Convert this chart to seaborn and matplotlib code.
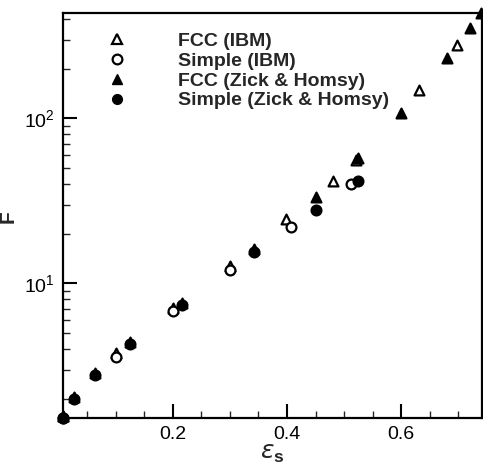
import matplotlib
matplotlib.use("Agg")
import matplotlib.pyplot as plt
import seaborn as sns
import numpy as np
import pandas as pd
from matplotlib.lines import Line2D
from matplotlib.ticker import LogLocator, NullFormatter, MultipleLocator

# Data
fcc_ibm_x = [0.008, 0.1, 0.2, 0.3, 0.399, 0.48, 0.52, 0.631, 0.698]
fcc_ibm_y = [1.58, 3.78, 7.11, 12.7, 24.4, 41.7, 56.0, 148.0, 278.0]
sc_ibm_x = [0.008, 0.1, 0.2, 0.3, 0.407, 0.512]
sc_ibm_y = [1.54, 3.59, 6.79, 12.0, 22.0, 39.8]
fcc_zh_x = [0.008, 0.027, 0.064, 0.125, 0.216, 0.343, 0.45, 0.5236, 0.6, 0.68, 0.72, 0.7405]
fcc_zh_y = [1.58, 2.06, 2.88, 4.42, 7.65, 16.1, 33.5, 57.2, 108.0, 231.0, 351.0, 435.0]
sc_zh_x = [0.008, 0.027, 0.064, 0.125, 0.216, 0.343, 0.45, 0.5236]
sc_zh_y = [1.53, 1.99, 2.78, 4.27, 7.39, 15.5, 27.8, 41.7]
labels = ["FCC (IBM)", "Simple (IBM)", "FCC (Zick & Homsy)", "Simple (Zick & Homsy)"]

sns.set_theme(style="white")
plt.rcParams['font.family'] = ['Liberation Sans', 'DejaVu Sans']
plt.rcParams['mathtext.fontset'] = 'custom'
plt.rcParams['mathtext.rm'] = 'Liberation Sans'
plt.rcParams['mathtext.bf'] = 'Liberation Sans:bold'

fig = plt.figure(figsize=(4.83, 4.66), dpi=100)
ax = fig.add_axes([63/483, 1-418/466, (481.5-63)/483, (418-13)/466])

ms = 50
series = [
    (fcc_ibm_x, fcc_ibm_y, '^', 'white'),
    (sc_ibm_x, sc_ibm_y, 'o', 'white'),
    (fcc_zh_x, fcc_zh_y, '^', 'black'),
    (sc_zh_x, sc_zh_y, 'o', 'black'),
]
for (xs, ys, m, fc), lab in zip(series, labels):
    df = pd.DataFrame({'x': xs, 'y': ys})
    sns.scatterplot(data=df, x='x', y='y', marker=m, s=ms, facecolor=fc,
                    edgecolor='black', linewidth=1.6, ax=ax, zorder=3,
                    legend=False, clip_on=False)

ax.set_yscale('log')
ax.set_xlim(0.008, 0.7405)
ax.set_ylim(1.53, 435)

ax.xaxis.set_major_locator(MultipleLocator(0.2))
ax.xaxis.set_minor_locator(MultipleLocator(0.05))
ax.yaxis.set_major_locator(LogLocator(base=10, numticks=10))
ax.yaxis.set_minor_locator(LogLocator(base=10, subs=np.arange(2, 10), numticks=10))
ax.yaxis.set_minor_formatter(NullFormatter())
ax.xaxis.set_major_formatter(matplotlib.ticker.FuncFormatter(lambda v, p: f"{v:.1f}"))

ax.tick_params(axis='both', which='major', direction='in', length=10, width=1.5,
               labelsize=14, colors='black', bottom=True, left=True, top=False, right=False, pad=6)
ax.tick_params(axis='both', which='minor', direction='in', length=5, width=1.0,
               bottom=True, left=True, top=False, right=False)

for sp in ax.spines.values():
    sp.set_linewidth(1.6)
    sp.set_color('black')
    sp.set_visible(True)

ax.set_xlabel(r'$\varepsilon_\mathbf{s}$', fontsize=18, labelpad=-2)
ax.set_ylabel('F', fontsize=15, fontweight='bold')
ax.yaxis.set_label_coords((18 - 63) / 418.5, (418 - 217) / 405)

handles = [
    Line2D([], [], marker='^', linestyle='none', markersize=7, markerfacecolor='white', markeredgecolor='black', markeredgewidth=1.6),
    Line2D([], [], marker='o', linestyle='none', markersize=7, markerfacecolor='white', markeredgecolor='black', markeredgewidth=1.6),
    Line2D([], [], marker='^', linestyle='none', markersize=7, markerfacecolor='black', markeredgecolor='black', markeredgewidth=1.0),
    Line2D([], [], marker='o', linestyle='none', markersize=7, markerfacecolor='black', markeredgecolor='black', markeredgewidth=1.0),
]
leg = ax.legend(handles, labels, loc='upper left',
                bbox_to_anchor=((107 - 63) / 418.5, (418 - 32) / 405),
                frameon=False, handlelength=1.0, handletextpad=2.64, labelspacing=0.12,
                prop={'family': 'Liberation Sans', 'weight': 'bold', 'size': 14},
                borderaxespad=0.0, borderpad=0.0)

fig.savefig('out.png', dpi=100)
